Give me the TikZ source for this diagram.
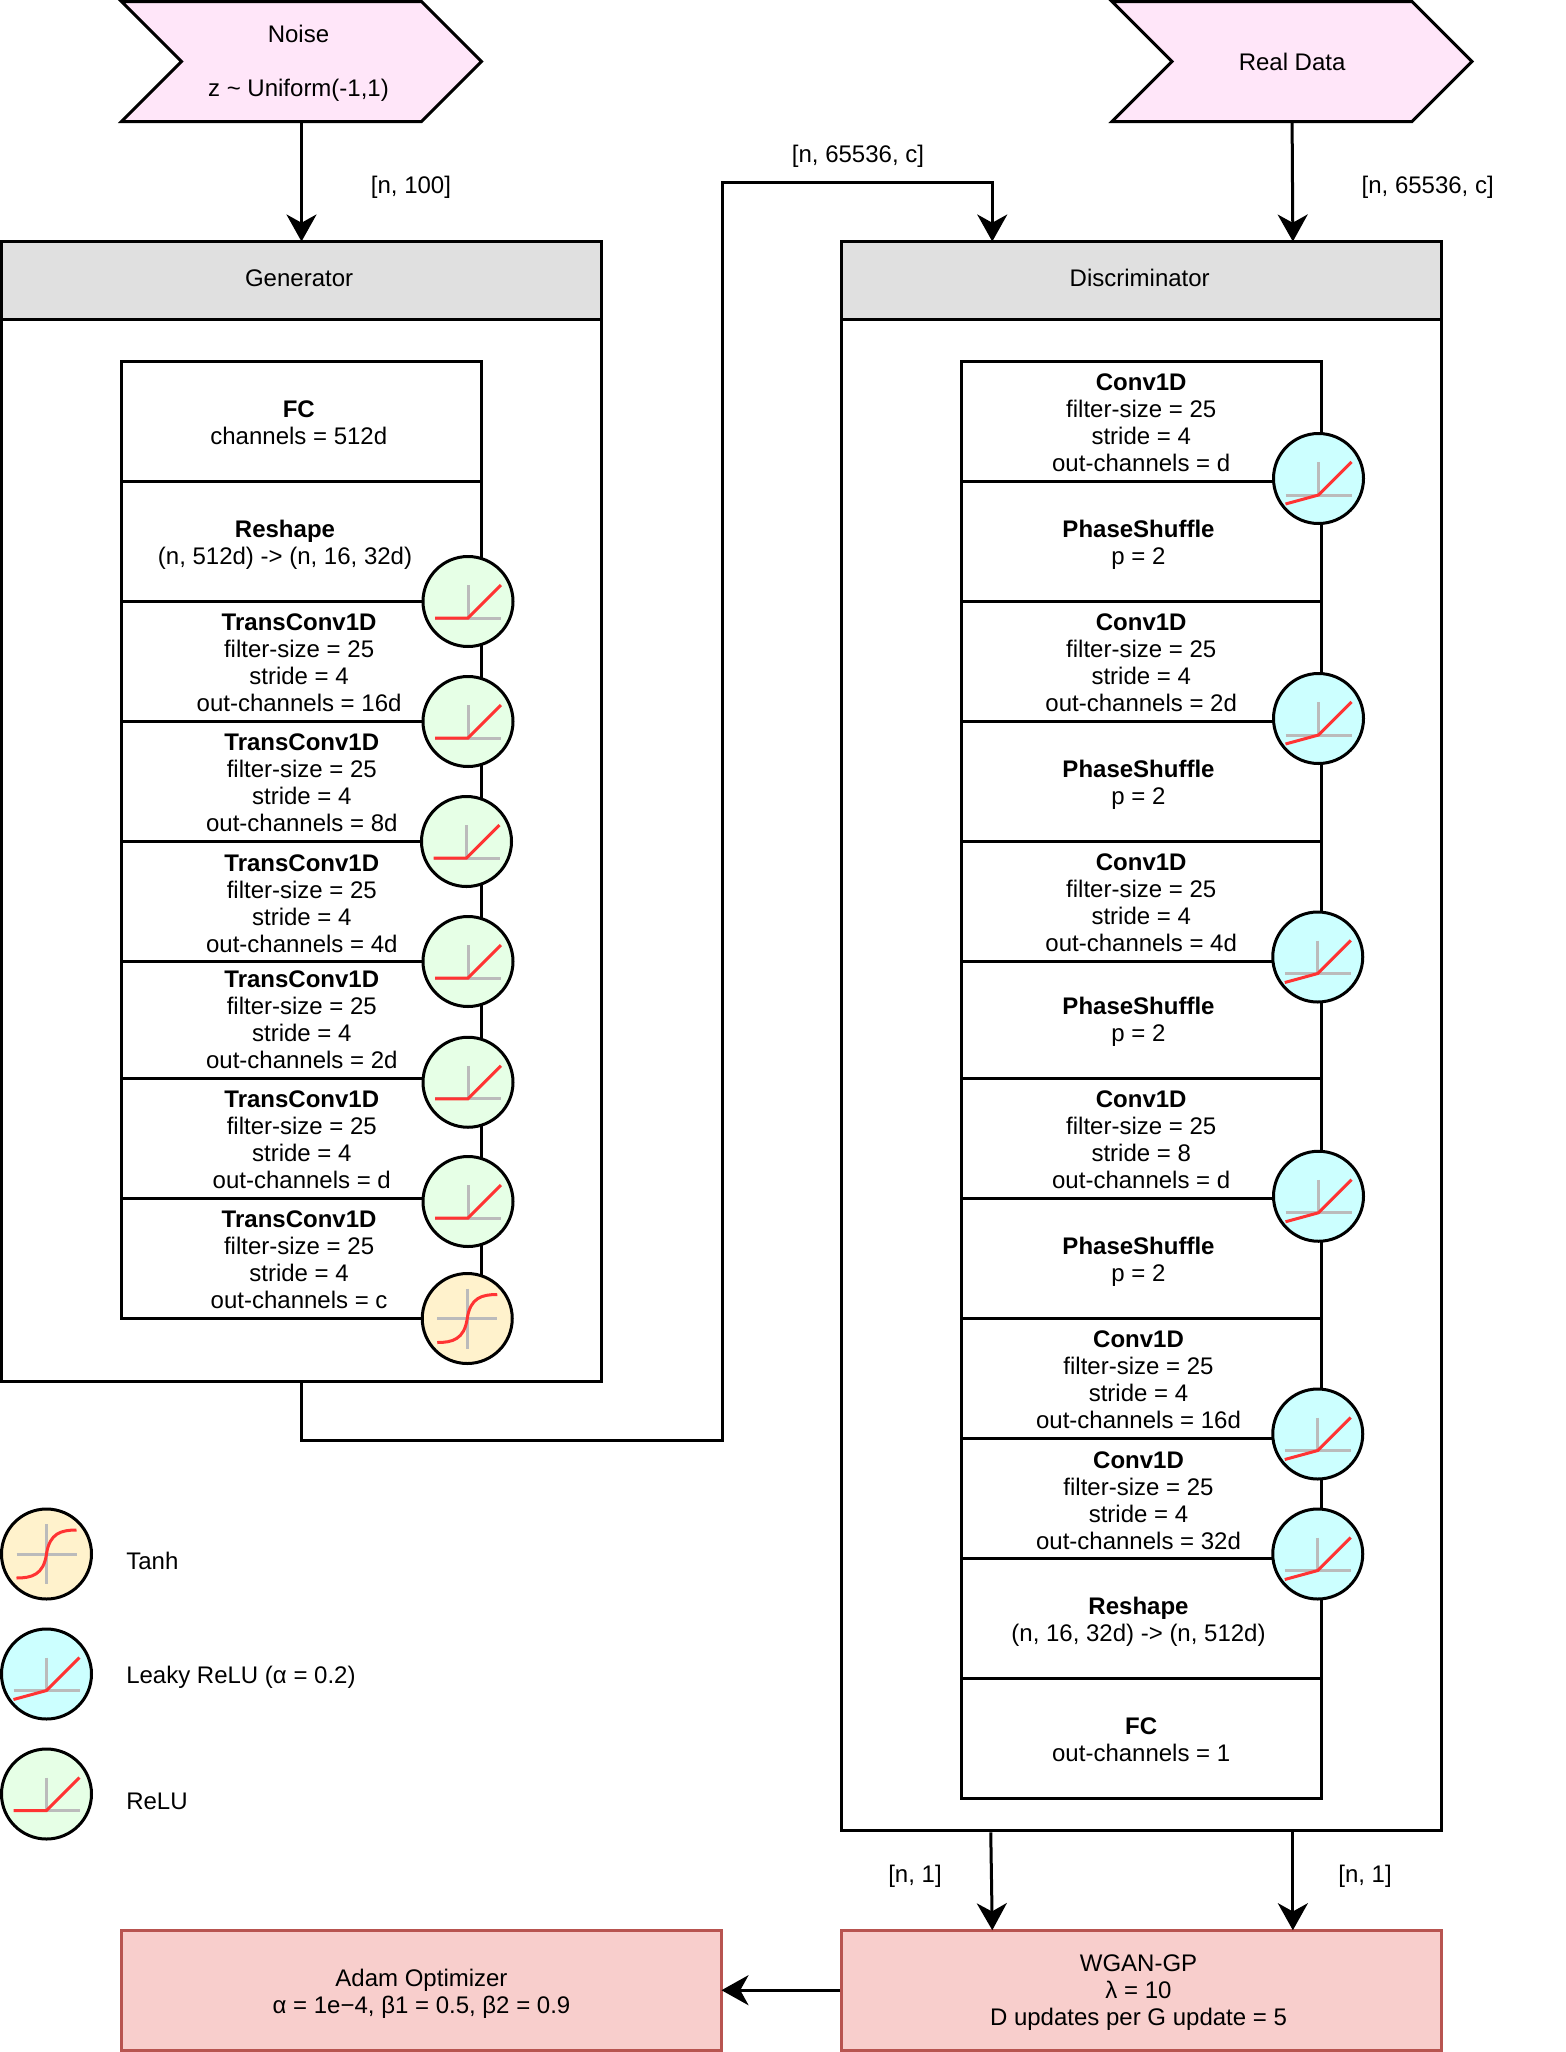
\documentclass[tikz,border=0pt]{standalone}
\usepackage{fontspec}
\setmainfont{Liberation Sans}
\usetikzlibrary{arrows.meta,calc,shapes.symbols}
\definecolor{inputpink}{HTML}{FFE6F9}
\definecolor{headgray}{HTML}{E0E0E0}
\definecolor{lossred}{HTML}{F8CECC}
\definecolor{lossedge}{HTML}{B85450}
\definecolor{relugreen}{HTML}{E6FFE6}
\definecolor{leakyblue}{HTML}{CCFFFF}
\definecolor{tanhyellow}{HTML}{FFF2CC}
\definecolor{curvered}{HTML}{FF3333}
\definecolor{axisgray}{HTML}{BBBBBB}

\begin{document}
\begin{tikzpicture}[x=1pt, y=-1pt,
    every node/.style={font=\fontsize{16}{18}\selectfont, align=center, inner sep=0pt},
    wire/.style={line width=2pt},
    flow/.style={wire, shorten >=-1pt, -{Stealth[length=18pt, width=20pt, inset=5.5pt]}},
    inputbox/.style={wire, draw, fill=inputpink, signal, signal from=west, signal to=east, signal pointer angle=90, minimum width=240pt, minimum height=80pt},
    panel/.style={wire, draw, fill=white, minimum width=400pt},
    panelhead/.style={wire, draw, fill=headgray, minimum width=400pt, minimum height=52pt},
    layerbox/.style={wire, draw, fill=white, minimum width=240pt, minimum height=80pt},
    lossbox/.style={wire, draw=lossedge, fill=lossred, minimum width=400pt, minimum height=80pt},
    axisline/.style={line width=2pt, axisgray},
    curveline/.style={line width=2pt, curvered},
    activation/.style={wire, draw, circle, minimum size=60pt},
    relu/.style={activation, fill=relugreen, path picture={
        \begin{scope}[shift={(path picture bounding box.center)}]
            \draw[axisline] (-22,11) -- (22,11) (0,-11) -- (0,11);
            \draw[curveline] (-22,11) -- (0,11) -- (22,-11);
        \end{scope}}},
    leaky/.style={activation, fill=leakyblue, path picture={
        \begin{scope}[shift={(path picture bounding box.center)}]
            \draw[axisline] (-22,11) -- (22,11) (0,-11) -- (0,11);
            \draw[curveline] (-22,17) -- (0,11) -- (22,-11);
        \end{scope}}},
    tanhact/.style={activation, fill=tanhyellow, path picture={
        \begin{scope}[shift={(path picture bounding box.center)}]
            \draw[axisline] (-20,0) -- (20,0) (0,-20) -- (0,20);
            \draw[curveline] (-20,16) .. controls (-10,16) and (-2,14) .. (0,0) .. controls (2,-14) and (10,-16) .. (20,-16);
        \end{scope}}}
]
    \useasboundingbox (0,0) rectangle (1044,1368);

    % inputs
    \node[inputbox] (noise) at (201,41) {};
    \node (noisetext) at (199,42.2) {Noise\\[18pt]z \textasciitilde{} Uniform(-1,1)};
    \node[inputbox] (real) at (861.4,41) {Real Data};

    % generator
    \node[panel, minimum height=709pt] (gbody) at (201,566.5) {};
    \node[panelhead] (ghead) at (201,187) {};
    \node (gheadtext) at (199.4,185.2) {Generator};
    \node[layerbox] (gfc) at (201,281) {};
    \node[layerbox] (greshape) at (201,361) {};
    \node[layerbox] (gconvA) at (201,441) {};
    \node[layerbox] (gconvB) at (201,521) {};
    \node[layerbox] (gconvC) at (201,601) {};
    \node[layerbox, minimum height=78pt] (gconvD) at (201,680) {};
    \node[layerbox] (gconvE) at (201,759) {};
    \node[layerbox] (gconvF) at (201,839) {};
    \node (gfctext) at (199.2,281.5) {\textbf{FC}\\channels = 512d};
    \node (greshapetext) at (190,363.4) {\textbf{Reshape}\\(n, 512d) -> (n, 16, 32d)};
    \node (gconvAtext) at (199.4,441.6) {\textbf{TransConv1D}\\filter-size = 25\\stride = 4\\out-channels = 16d};
    \node (gconvBtext) at (201.2,522.1) {\textbf{TransConv1D}\\filter-size = 25\\stride = 4\\out-channels = 8d};
    \node (gconvCtext) at (201.2,602.2) {\textbf{TransConv1D}\\filter-size = 25\\stride = 4\\out-channels = 4d};
    \node (gconvDtext) at (201.2,679.8) {\textbf{TransConv1D}\\filter-size = 25\\stride = 4\\out-channels = 2d};
    \node (gconvEtext) at (201.2,760) {\textbf{TransConv1D}\\filter-size = 25\\stride = 4\\out-channels = d};
    \node (gconvFtext) at (199.4,839.5) {\textbf{TransConv1D}\\filter-size = 25\\stride = 4\\out-channels = c};
    \node[relu] (gactA) at (312,401) {};
    \node[relu] (gactB) at (312,481) {};
    \node[relu] (gactC) at (311,561) {};
    \node[relu] (gactD) at (312,641) {};
    \node[relu] (gactE) at (312,721.5) {};
    \node[relu] (gactF) at (312,801) {};
    \node[tanhact] (gactG) at (311.5,879) {};

    % discriminator
    \node[panel, minimum height=1008.5pt] (dbody) at (761,716.25) {};
    \node[panelhead] (dhead) at (761,187) {};
    \node (dheadtext) at (759.8,185.2) {Discriminator};
    \node[layerbox] (dconvA) at (761,281) {};
    \node[layerbox] (dshufA) at (761,361) {};
    \node[layerbox] (dconvB) at (761,441) {};
    \node[layerbox] (dshufB) at (761,521) {};
    \node[layerbox] (dconvC) at (761,601) {};
    \node[layerbox, minimum height=78pt] (dshufC) at (761,680) {};
    \node[layerbox] (dconvD) at (761,759) {};
    \node[layerbox] (dshufD) at (761,839) {};
    \node[layerbox] (dconvE) at (761,919) {};
    \node[layerbox] (dconvF) at (761,999) {};
    \node[layerbox] (dreshape) at (761,1079) {};
    \node[layerbox] (dfc) at (761,1159) {};
    \node (dconvAtext) at (760.8,281.7) {\textbf{Conv1D}\\filter-size = 25\\stride = 4\\out-channels = d};
    \node (dshufAtext) at (759,363.4) {\textbf{PhaseShuffle}\\p = 2};
    \node (dconvBtext) at (760.8,441.6) {\textbf{Conv1D}\\filter-size = 25\\stride = 4\\out-channels = 2d};
    \node (dshufBtext) at (759,523) {\textbf{PhaseShuffle}\\p = 2};
    \node (dconvCtext) at (760.8,601.8) {\textbf{Conv1D}\\filter-size = 25\\stride = 4\\out-channels = 4d};
    \node (dshufCtext) at (759,681) {\textbf{PhaseShuffle}\\p = 2};
    \node (dconvDtext) at (760.8,760) {\textbf{Conv1D}\\filter-size = 25\\stride = 8\\out-channels = d};
    \node (dshufDtext) at (759,841) {\textbf{PhaseShuffle}\\p = 2};
    \node (dconvEtext) at (759,919.8) {\textbf{Conv1D}\\filter-size = 25\\stride = 4\\out-channels = 16d};
    \node (dconvFtext) at (759,1000.2) {\textbf{Conv1D}\\filter-size = 25\\stride = 4\\out-channels = 32d};
    \node (dreshapetext) at (759,1081.4) {\textbf{Reshape}\\(n, 16, 32d) -> (n, 512d)};
    \node (dfctext) at (760.8,1160.1) {\textbf{FC}\\out-channels = 1};
    \node[leaky] (dactA) at (879,319) {};
    \node[leaky] (dactB) at (879,479) {};
    \node[leaky] (dactC) at (878.5,638) {};
    \node[leaky] (dactD) at (879,797.5) {};
    \node[leaky] (dactE) at (878.5,956) {};
    \node[leaky] (dactF) at (878.5,1036) {};

    % legend
    \node[tanhact] (legtanh) at (31,1036) {};
    \node[leaky] (legleaky) at (31,1116) {};
    \node[relu] (legrelu) at (31,1196) {};
    \node[anchor=west] (tanhtext) at (84,1040.8) {Tanh};
    \node[anchor=west] (leakytext) at (84,1118) {Leaky ReLU (α = 0.2)};
    \node[anchor=west] (relutext) at (84,1200.8) {ReLU};

    % losses
    \node[lossbox] (adam) at (281,1326.8) {};
    \node[lossbox] (wgan) at (761,1326.8) {};
    \node (adamtext) at (281,1329) {Adam Optimizer\\α = 1e−4, β1 = 0.5, β2 = 0.9};
    \node (wgantext) at (759,1328.5) {WGAN-GP\\λ = 10\\D updates per G update = 5};

    % labels on the connectors
    \node (noiselabel) at (274,124.7) {[n, 100]};
    \node (fakelabel) at (572,104.2) {[n, 65536, c]};
    \node (reallabel) at (951.8,124.7) {[n, 65536, c]};
    \node (scorelabelA) at (610,1250.6) {[n, 1]};
    \node (scorelabelB) at (910,1250.6) {[n, 1]};

    % connectors
    \coordinate (dfakein) at ($(dhead.north west)!0.2525!(dhead.north east)$);
    \coordinate (drealin) at ($(dhead.north west)!0.751!(dhead.north east)$);
    \coordinate (dfakeout) at ($(dbody.south west)!0.25!(dbody.south east)$);
    \coordinate (drealout) at ($(dbody.south west)!0.751!(dbody.south east)$);
    \coordinate (wganfake) at ($(wgan.north west)!0.2525!(wgan.north east)$);
    \coordinate (wganreal) at ($(wgan.north west)!0.751!(wgan.north east)$);
    \coordinate (gbendA) at (481.5,960.5);
    \coordinate (gbendB) at (481.5,121.5);
    \draw[flow] (noise.south) -- (ghead.north);
    \draw[flow] (real.south) -- (drealin);
    \draw[flow] (gbody.south) |- (gbendA) -- (gbendB) -| (dfakein);
    \draw[flow] (dfakeout) -- (wganfake);
    \draw[flow] (drealout) -- (wganreal);
    \draw[flow] (wgan.west) -- (adam.east);
\end{tikzpicture}
\end{document}
